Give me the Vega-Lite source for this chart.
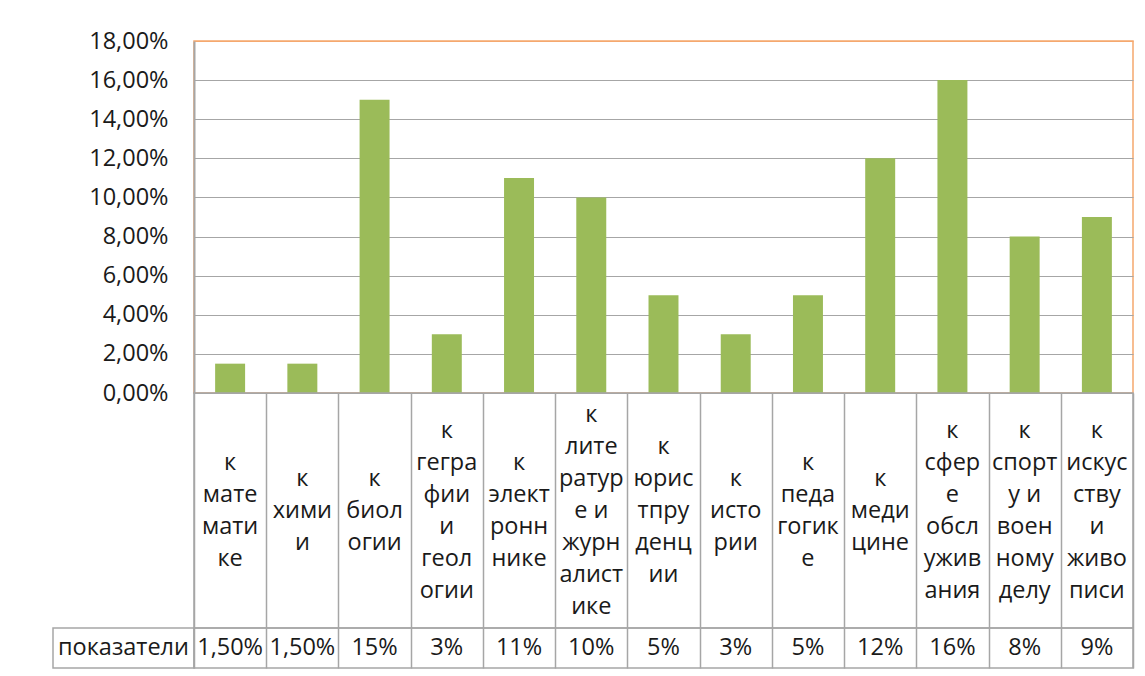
{
  "$schema": "https://vega.github.io/schema/vega-lite/v6.json",
  "padding": {"left": 52, "top": 28, "right": 5, "bottom": 5},
  "background": "white",
  "columns": 2,
  "spacing": 0,
  "bounds": "flush",
  "config": {
    "font": "Open Sans",
    "text": {"font": "Open Sans", "fontSize": 23.5, "color": "#1a1a1a"},
    "axis": {"labelFont": "Open Sans", "labelColor": "#1a1a1a"}
  },
  "datasets": {
    "d": [
      {"cat": "к математике", "lines": "к\nмате\nмати\nке", "value": 1.5, "label": "1,50%"},
      {"cat": "к химии", "lines": "к\nхими\nи", "value": 1.5, "label": "1,50%"},
      {"cat": "к биологии", "lines": "к\nбиол\nогии", "value": 15, "label": "15%"},
      {"cat": "к геграфии и геологии", "lines": "к\nгегра\nфии\nи\nгеол\nогии", "value": 3, "label": "3%"},
      {"cat": "к электроннике", "lines": "к\nэлект\nронн\nнике", "value": 11, "label": "11%"},
      {"cat": "к литературе и журналистике", "lines": "к\nлите\nратур\nе и\nжурн\nалист\nике", "value": 10, "label": "10%"},
      {"cat": "к юриспруденции", "lines": "к\nюрис\nтпру\nденц\nии", "value": 5, "label": "5%"},
      {"cat": "к истории", "lines": "к\nисто\nрии", "value": 3, "label": "3%"},
      {"cat": "к педагогике", "lines": "к\nпеда\nгогик\nе", "value": 5, "label": "5%"},
      {"cat": "к медицине", "lines": "к\nмеди\nцине", "value": 12, "label": "12%"},
      {"cat": "к сфере обслуживания", "lines": "к\nсфер\nе\nобсл\nужив\nания", "value": 16, "label": "16%"},
      {"cat": "к спорту и военному делу", "lines": "к\nспорт\nу и\nвоен\nному\nделу", "value": 8, "label": "8%"},
      {"cat": "к искусству и живописи", "lines": "к\nискус\nству\nи\nживо\nписи", "value": 9, "label": "9%"}
    ]
  },
  "concat": [
    {
      "width": 141, "height": 352,
      "data": {"values": []},
      "mark": "point",
      "encoding": {},
      "view": {"stroke": null}
    },
    {
      "width": 939, "height": 352,
      "data": {"name": "d"},
      "view": {"stroke": "#F5A86E", "strokeWidth": 1.5},
      "mark": {"type": "bar", "color": "#9BBB59"},
      "encoding": {
        "x": {"field": "cat", "type": "nominal", "sort": null,
              "scale": {"paddingInner": 0.585, "paddingOuter": 0.2925}, "axis": null},
        "y": {"field": "value", "type": "quantitative",
              "scale": {"domain": [0, 18], "nice": false},
              "axis": {"values": [0, 2, 4, 6, 8, 10, 12, 14, 16, 18],
                       "labelExpr": "replace(format(datum.value, '.2f'), '.', ',') + '%'",
                       "grid": true,
                       "gridColor": {"condition": {"test": "datum.value >= 18", "value": "#F5A86E"}, "value": "#A6A6A6"},
                       "gridWidth": 1.2,
                       "ticks": false, "domainColor": "#A6A6A6", "domainWidth": 2,
                       "labelFontSize": 23.5, "labelPadding": 26, "title": null}}
      }
    },
    {
      "width": 141, "height": 235,
      "data": {"values": []},
      "mark": "point",
      "encoding": {},
      "view": {"stroke": null}
    },
    {
      "width": 939, "height": 235,
      "data": {"name": "d"},
      "view": {"stroke": "#A6A6A6", "strokeWidth": 1.5},
      "mark": {"type": "text", "lineBreak": "\n", "lineHeight": 32, "baseline": "middle", "align": "center", "fontSize": 23.5,
               "dy": {"expr": "-16 * (length(split(datum.lines, '\\n')) - 1)"}},
      "encoding": {
        "x": {"field": "cat", "type": "nominal", "sort": null,
              "scale": {"paddingInner": 0, "paddingOuter": 0},
              "axis": {"tickBand": "extent", "grid": true, "gridColor": "#A6A6A6", "gridWidth": 1.5,
                       "labels": false, "ticks": false, "domain": false, "title": null}},
        "text": {"field": "lines", "type": "nominal"}
      }
    },
    {
      "width": 141, "height": 40,
      "data": {"values": [{"row": "показатели"}]},
      "view": {"stroke": "#A6A6A6", "strokeWidth": 1.5},
      "mark": {"type": "text", "baseline": "middle", "align": "center", "fontSize": 23.5},
      "encoding": {
        "text": {"field": "row", "type": "nominal"}
      }
    },
    {
      "width": 939, "height": 40,
      "data": {"name": "d"},
      "view": {"stroke": "#A6A6A6", "strokeWidth": 1.5},
      "mark": {"type": "text", "baseline": "middle", "align": "center", "fontSize": 23.5},
      "encoding": {
        "x": {"field": "cat", "type": "nominal", "sort": null,
              "scale": {"paddingInner": 0, "paddingOuter": 0},
              "axis": {"tickBand": "extent", "grid": true, "gridColor": "#A6A6A6", "gridWidth": 1.5,
                       "labels": false, "ticks": false, "domain": false, "title": null}},
        "text": {"field": "label", "type": "nominal"}
      }
    }
  ]
}
